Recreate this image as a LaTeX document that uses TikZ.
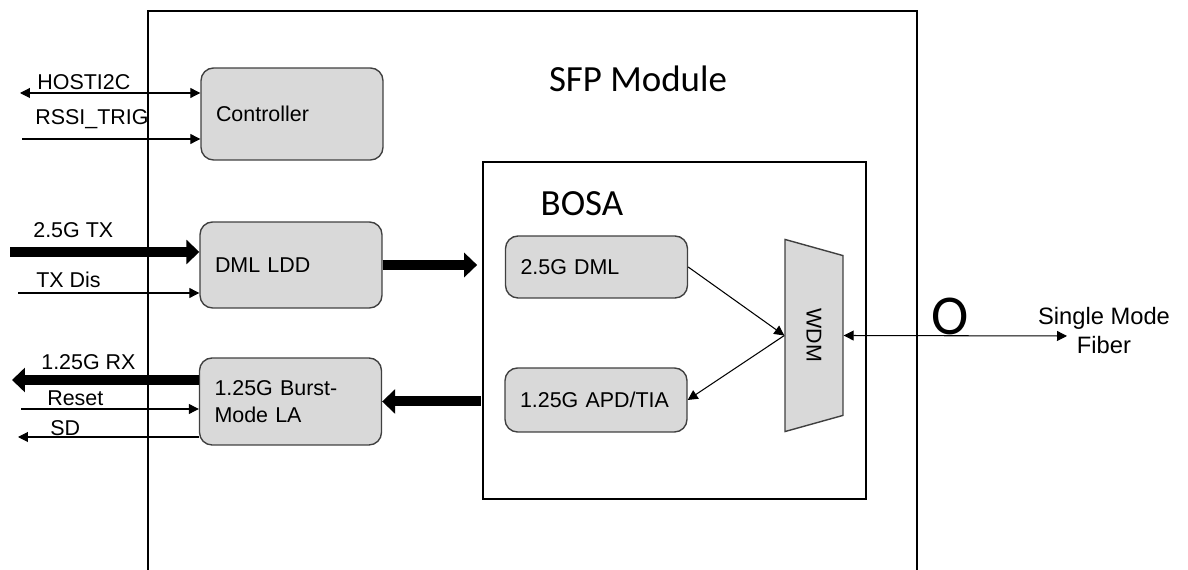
\documentclass[tikz,border=0pt]{standalone}
\usepackage{fontspec}
\setmainfont{Liberation Sans}
\newfontfamily\calib{Carlito}
\usepackage{tikz}
\usepackage{xcolor}
\usetikzlibrary{
    arrows.meta,
    shapes.geometric,
    positioning,
    calc
}
\definecolor{boxgray}{HTML}{D9D9D9}
\definecolor{edgegray}{HTML}{404040}
\newcommand{\sigfont}{\fontsize{12.2}{15.5}\selectfont}
\tikzset{
    blk/.style={draw=edgegray, fill=boxgray, line width=0.8pt, rounded corners=0.25cm,
        minimum width=3.64cm, minimum height=#1, text width=3.04cm, inner xsep=0.3cm,
        align=left, font=\sigfont},
    sig/.style={line width=0.6pt},
    bus/.style={line width=0.2cm, -{Triangle[length=0.26cm, width=0.48cm]}},
    lbl/.style={anchor=west, font=\sigfont, inner sep=0pt}
}

\begin{document}
\begin{tikzpicture}[x=0.02cm, y=-0.02cm, >={Triangle[length=0.2cm, width=0.2cm]}]
                                \useasboundingbox (0,0) rectangle (1188,570);
                                % module outline, open at the bottom
                                \draw[line width=1.1pt] (148,570) -- (148,11) -- (917,11) -- (917,570);
                                \node[font=\calib\fontsize{21}{24}\selectfont] (sfp) at (638,79) {SFP Module};
                                \node[draw, line width=0.7pt, minimum width=7.66cm, minimum height=6.74cm] (bosa) at (674.5,330.5) {};
                                \node[font=\calib\fontsize{21}{24}\selectfont] (bosat) at (582,204) {BOSA};
                                \node[blk=1.84cm] (ctrl) at (292,114) {Controller};
                                \node[blk=1.72cm] (ldd) at (291,265) {DML LDD};
                                \node[blk=1.74cm] (la) at (290.5,401.5) {1.25G Burst-\\Mode LA};
                                \node[blk=1.24cm] (dml) at (596.5,267) {2.5G DML};
                                \node[blk=1.28cm] (apd) at (596,400) {1.25G APD/TIA};
                                \node[trapezium, rotate=-90, draw=edgegray, fill=boxgray, line width=0.8pt,
                                    trapezium angle=76, trapezium stretches=true, minimum width=3.86cm, minimum height=1.16cm,
                                    font=\sigfont] (wdm) at (814,335.5) {WDM};
                                % host side signals
                                \coordinate (hostL) at (20,93);
                                \coordinate (rssiL) at (22,139);
                                \coordinate (txL) at (10,252);
                                \coordinate (disL) at (18,293);
                                \coordinate (rxL) at (12,380);
                                \coordinate (rstL) at (21,409);
                                \coordinate (sdL) at (18,437);
                                \coordinate (fiber) at (1067,336);
                                \draw[sig, <->] (hostL) -- (hostL -| ctrl.west);
                                \draw[sig, ->] (rssiL) -- (rssiL -| ctrl.west);
                                \draw[bus] (txL) -- (txL -| ldd.west);
                                \draw[sig, ->] (disL) -- (disL -| ldd.west);
                                \draw[bus] (rxL -| la.west) -- (rxL);
                                \draw[sig, ->] (rstL) -- (rstL -| la.west);
                                \draw[sig, ->] (sdL -| la.west) -- (sdL);
                                \node[lbl] (hostt) at (37,82) {HOSTI2C};
                                \node[lbl] (rssit) at (35,119) {RSSI\_TRIG};
                                \node[lbl] (txt) at (33,230) {2.5G TX};
                                \node[lbl] (dist) at (36,280) {TX Dis};
                                \node[lbl] (rxt) at (41,362) {1.25G RX};
                                \node[lbl] (rstt) at (47,398) {Reset};
                                \node[lbl] (sdt) at (50,428) {SD};
                                % optical path
                                \draw[bus, shorten >=3pt] (ldd.east) -- (bosa.west |- ldd.east);
                                \draw[bus, shorten <=1pt] (bosa.west |- la.east) -- (la.east);
                                \draw[sig, ->] (dml.east) -- (wdm.south);
                                \draw[sig, ->] (wdm.south) -- (apd.east);
                                \draw[sig, <->] (wdm.north) -- (fiber);
                                \node[font=\calib\fontsize{32}{33}\selectfont, inner sep=0pt] (loop) at (950,316) {O};
                                \node[align=center, font=\fontsize{13.5}{16.5}\selectfont] (smf) at (1104,331) {Single Mode\\Fiber};
                            \end{tikzpicture}
\end{document}
